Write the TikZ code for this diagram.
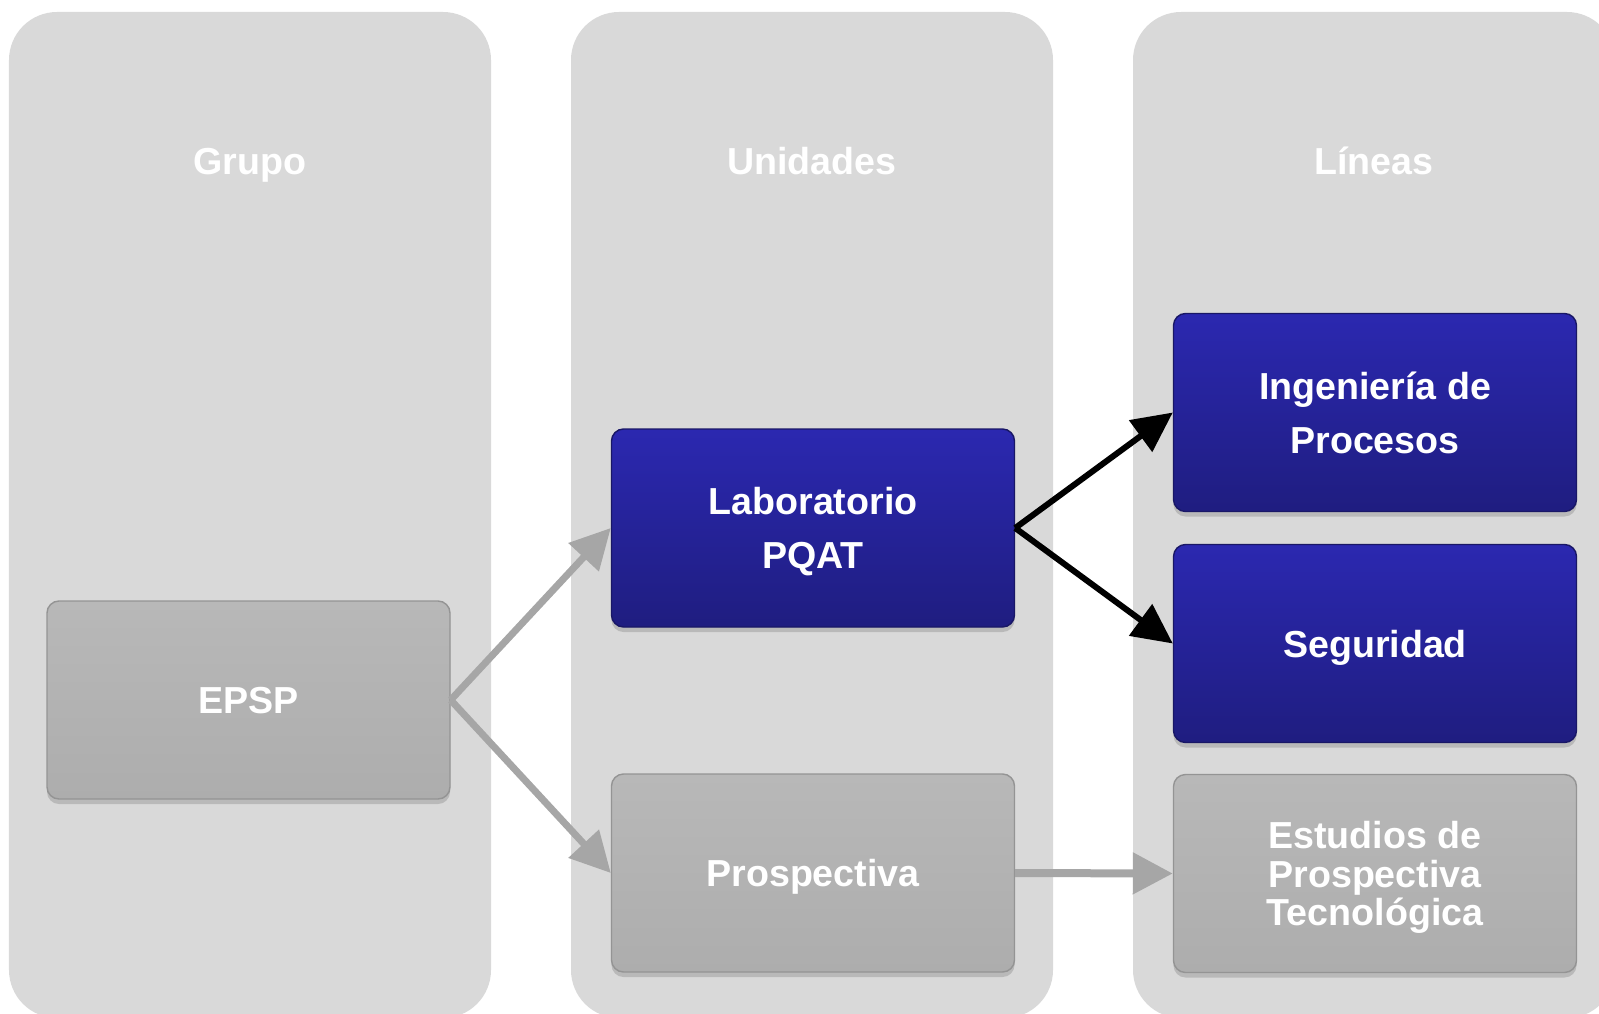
\documentclass[tikz,border=0pt]{standalone}
\usepackage{fontspec}
\setmainfont{Liberation Sans}
\usepackage{xcolor}
\usetikzlibrary{calc, arrows.meta, shadows}

\definecolor{colgray}{HTML}{D9D9D9}
\definecolor{cardgray}{HTML}{B2B2B2}
\definecolor{cardgraytop}{HTML}{B8B8B8}
\definecolor{cardgraybot}{HTML}{ADADAD}
\definecolor{cardblue}{RGB}{43,40,176}
\definecolor{cardbluedark}{RGB}{31,29,128}
\definecolor{arrgray}{HTML}{A6A6A6}

\tikzset{
	column/.style={fill=colgray, rounded corners=0.48cm},
	heading/.style={text=white, text depth=0pt, font=\bfseries\fontsize{10.7}{12}\selectfont},
	card/.style={rounded corners=0.12cm, minimum width=4.03cm, minimum height=1.98cm,
		inner sep=0pt, align=center, text=white, text depth=0pt,
		font=\bfseries\fontsize{10.7}{15.3}\selectfont,
		drop shadow={shadow xshift=0pt, shadow yshift=-0.05cm, opacity=0.35}},
	graycard/.style={card, top color=cardgraytop, bottom color=cardgraybot, draw=black!42, line width=0.4pt},
	bluecard/.style={card, top color=cardblue, bottom color=cardbluedark, draw=cardbluedark!80!black, line width=0.4pt},
	grayarrow/.style={draw=arrgray, line width=0.07cm, -{Triangle[length=0.4cm, width=0.4cm]}},
	blackarrow/.style={draw=black, line width=0.06cm, -{Triangle[length=0.4cm, width=0.38cm]}}
}

\begin{document}
\begin{tikzpicture}
	\useasboundingbox (0,0) rectangle (15.99,-10.13);
	\clip (0,0) rectangle (15.99,-10.13);
	
	% columnas de fondo
	\begin{scope}
		\fill[column] (0.09,-0.12) rectangle (4.91,-10.18);
		\fill[column] (5.71,-0.12) rectangle (10.53,-10.18);
		\fill[column] (11.33,-0.12) rectangle (16.15,-10.18);
	\end{scope}
	
	\node[heading] (grupo) at (2.50,-1.61) {Grupo};
	\node[heading] (unidades) at (8.12,-1.61) {Unidades};
	\node[heading] (lineas) at (13.74,-1.61) {Líneas};
	
	% cajas
	\node[graycard] (epsp) at (2.485,-7.00) {EPSP};
	\node[bluecard] (lab) at (8.13,-5.28) {Laboratorio\\PQAT};
	\node[graycard] (prosp) at (8.13,-8.73) {Prospectiva};
	\node[bluecard] (ing) at (13.75,-4.125) {Ingeniería de\\Procesos};
	\node[bluecard] (seg) at (13.75,-6.435) {Seguridad};
	\node[graycard, font=\bfseries\fontsize{10.7}{10.9}\selectfont] (estud) at (13.75,-8.735) {Estudios de\\Prospectiva\\Tecnológica};
	
	% flechas
	\begin{scope}
		\draw[grayarrow] (epsp.east) -- (lab.west);
		\draw[grayarrow] (epsp.east) -- (prosp.west);
		\draw[grayarrow, line width=0.08cm] (prosp.east) -- (estud.west);
	\end{scope}
	
	\begin{scope}
		\draw[blackarrow] (lab.east) -- (ing.west);
		\draw[blackarrow] (lab.east) -- (seg.west);
	\end{scope}
\end{tikzpicture}
\end{document}
